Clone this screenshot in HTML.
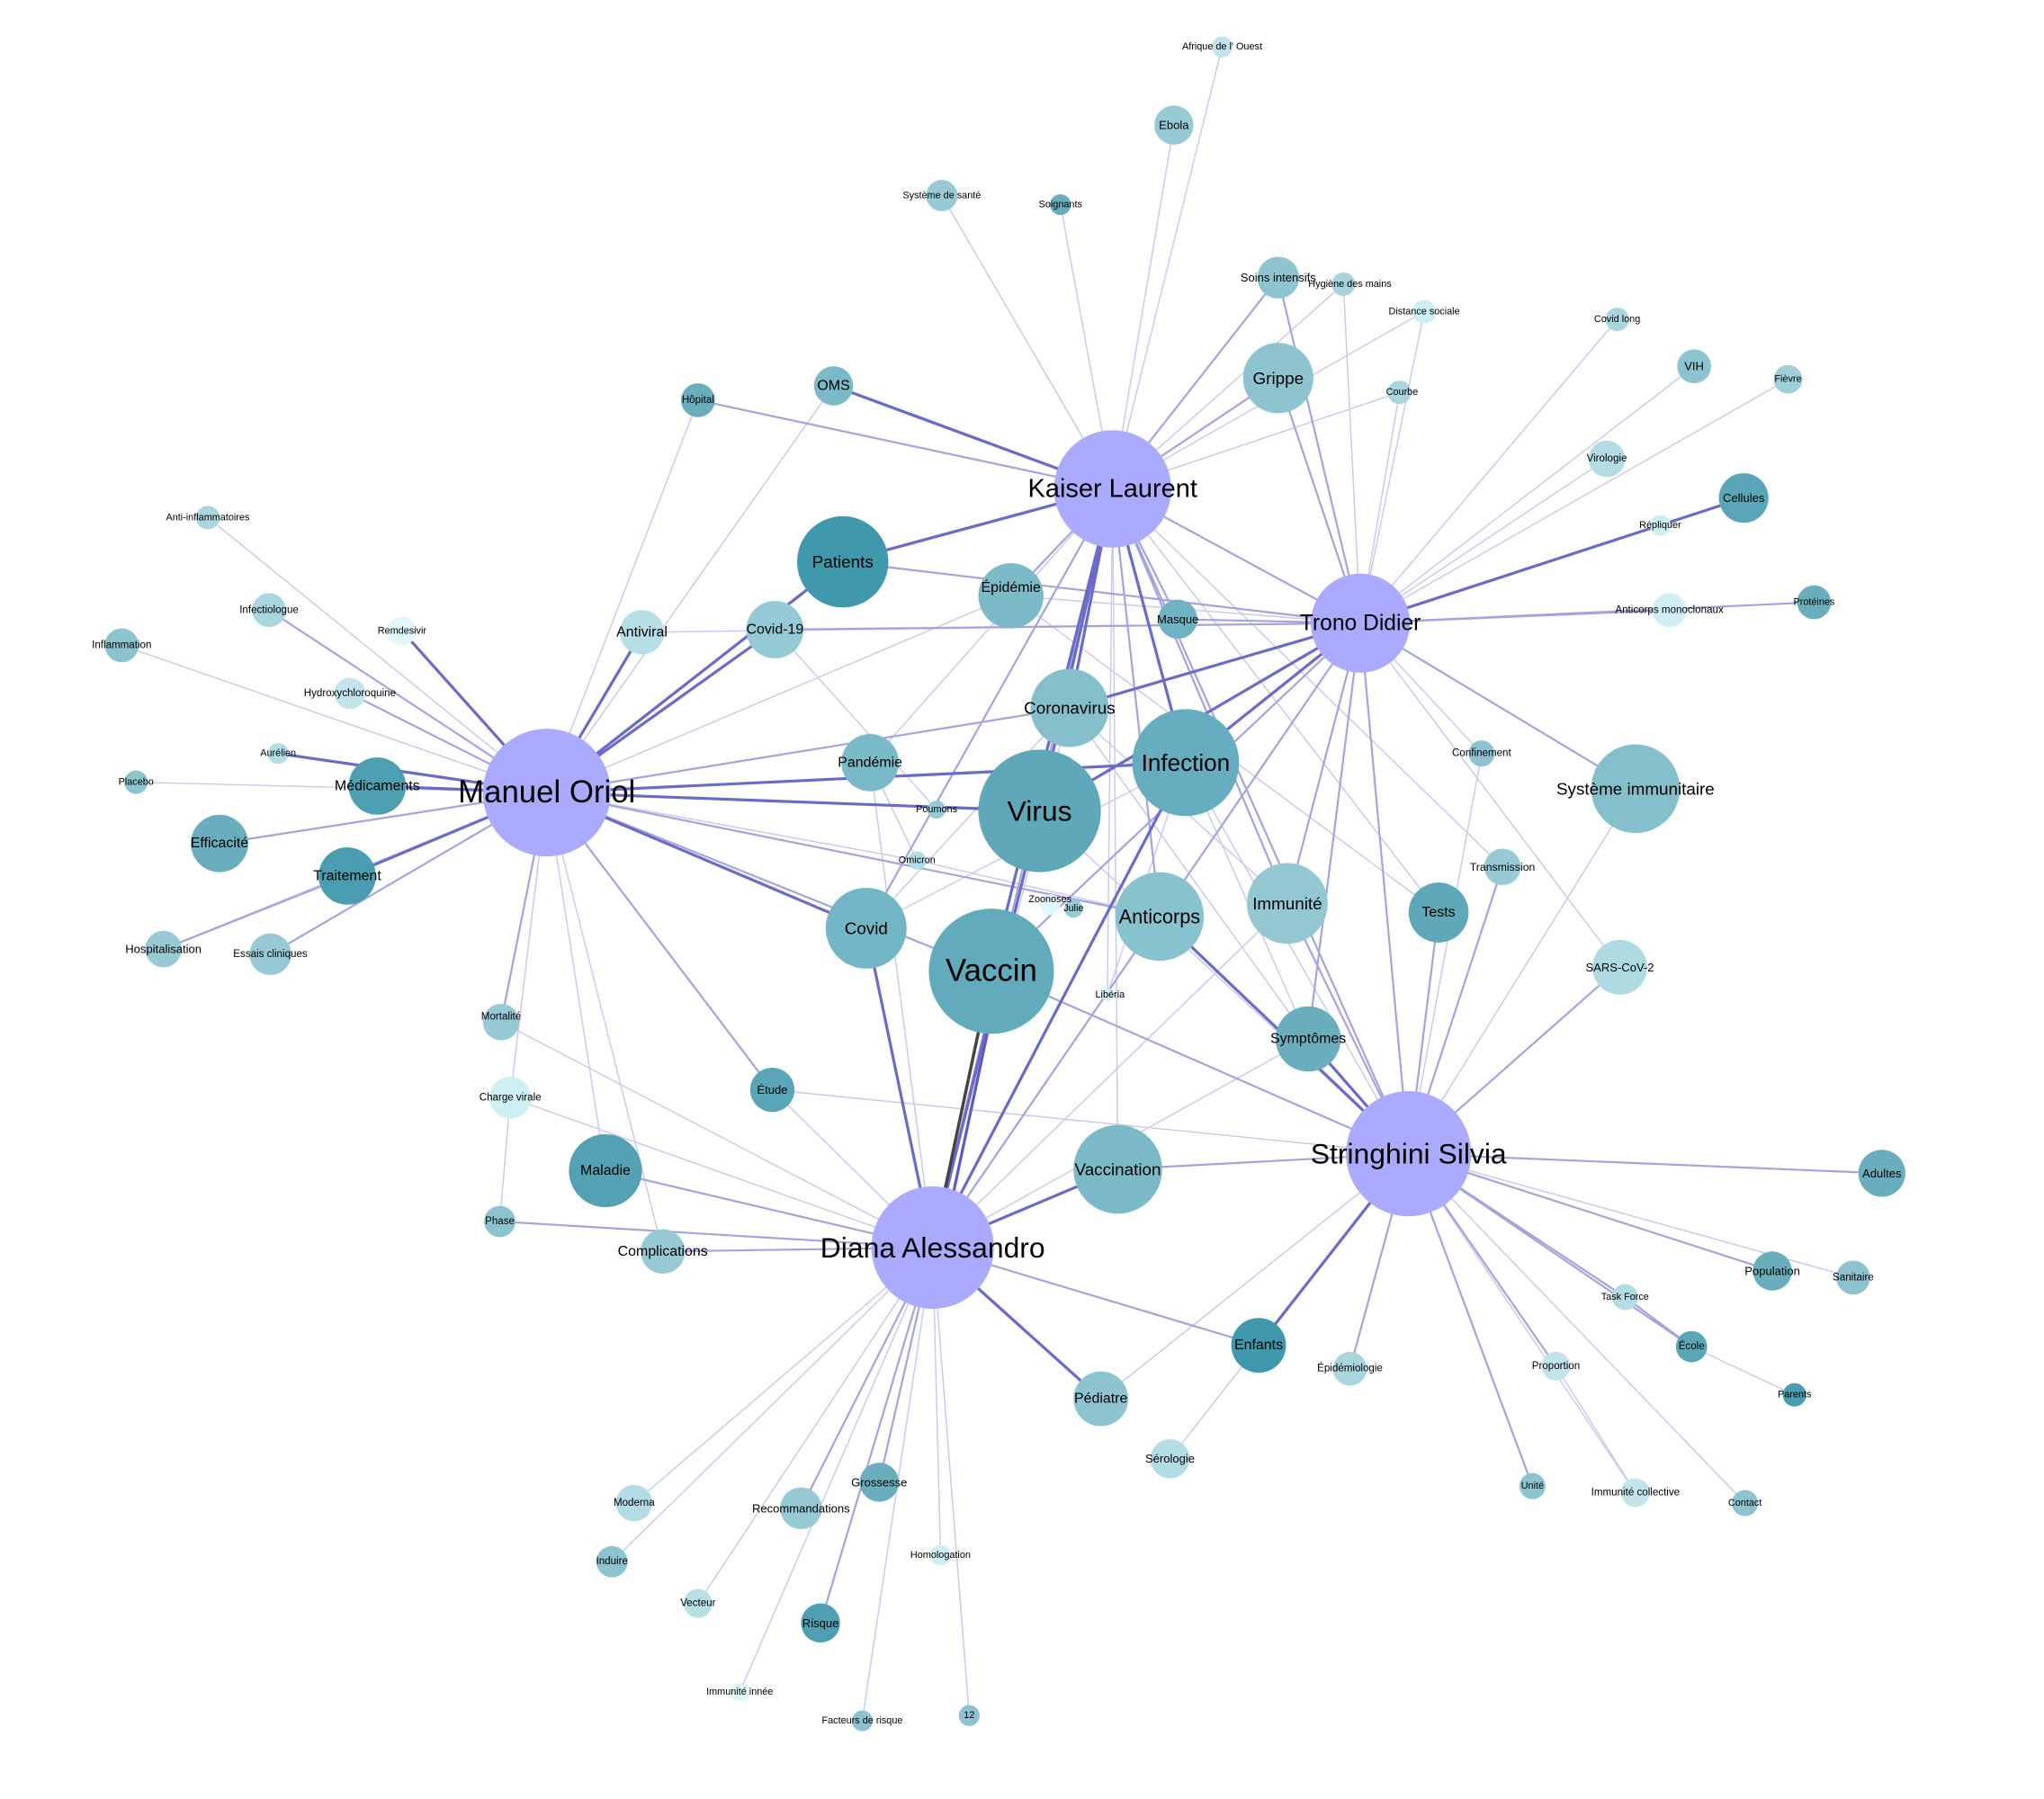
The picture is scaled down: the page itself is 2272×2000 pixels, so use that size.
<!DOCTYPE html>
<html><head><meta charset="utf-8"><style>
html,body{margin:0;padding:0;background:#fff;}
svg{display:block}
text{font-family:"Liberation Sans",sans-serif;fill:#000;text-anchor:middle;dominant-baseline:central}
</style></head><body>
<svg width="2272" height="2000" viewBox="0 0 1567 1380" xmlns="http://www.w3.org/2000/svg">
<g fill="none" stroke-linecap="round">
<path stroke="#c9c9ec" stroke-width="1" d="
M853 375L722 150 M853 375L813 157 M853 375L900 96 M853 375L937 36 M853 375L1030 218 M853 375L1092 239 M853 375L1073 301 M853 375L1103 700 M853 375L1152 665 M853 375L849 763 M853 375L667 585 M853 375L857 897
M1043 478L1240 245 M1043 478L1299 281 M1043 478L1371 291 M1043 478L1232 352 M1043 478L1273 403 M1043 478L1136 578 M1043 478L775 457 M1043 478L492 485 M1043 478L1242 742 M1043 478L1030 218 M1043 478L1073 301 M1043 478L1092 239
M419 608L159 397 M419 608L93 495 M419 608L104 600 M419 608L125 728 M419 608L535 307 M419 608L639 296 M419 608L775 457 M419 608L464 898 M419 608L508 960 M419 608L703 660 M419 608L391 842
M1080 885L1421 980 M1080 885L1254 1145 M1080 885L1338 1153 M1080 885L1254 605 M1080 885L1136 578 M1080 885L844 1073 M1080 885L592 836 M1080 885L987 693 M1080 885L909 585 M1080 885L797 622
M715 957L486 1153 M715 957L469 1198 M715 957L535 1230 M715 957L567 1298 M715 957L661 1320 M715 957L743 1316 M715 957L721 1193 M715 957L391 842 M715 957L384 784 M715 957L592 836 M715 957L1003 797 M715 957L987 693 M715 957L820 543 M715 957L667 585 M715 957L1043 478
M897 1119L965 1032 M1193 1048L1254 1145 M1297 1033L1376 1070 M383 937L391 842 M664 712L909 585 M664 712L820 543 M667 585L703 660 M718 621L594 483 M849 763L909 585 M820 543L1003 797 M909 585L1003 797 M703 660L889 703 M1254 605L1080 885 M987 693L820 543 M775 457L1103 700
"/>
<path stroke="#a3a3de" stroke-width="1.5" d="
M853 375L535 307 M853 375L980 213 M853 375L980 290 M853 375L775 457 M853 375L889 703 M853 375L903 475 M853 375L1043 478 M853 375L664 712 M853 375L715 957 M853 375L987 693
M1043 478L980 290 M1043 478L980 213 M1043 478L1280 468 M1043 478L1391 462 M1043 478L646 431 M1043 478L594 483 M1043 478L903 475 M1043 478L987 693 M1043 478L1080 885 M1043 478L1003 797 M1043 478L889 703 M1043 478L1254 605 M1043 478L760 745
M419 608L206 468 M419 608L268 532 M419 608L168 647 M419 608L207 732 M419 608L384 784 M419 608L820 543 M419 608L889 703 M419 608L592 836 M419 608L760 745
M1080 885L1443 900 M1080 885L1359 975 M1080 885L1246 995 M1080 885L1297 1033 M1080 885L1193 1048 M1080 885L1035 1050 M1080 885L1175 1140 M1080 885L1242 742 M1080 885L1103 700 M1080 885L1152 665 M1080 885L987 693 M1080 885L889 703 M1080 885L760 745 M1080 885L857 897
M715 957L965 1032 M715 957L674 1137 M715 957L614 1157 M715 957L629 1245 M715 957L383 937 M715 957L508 960 M715 957L464 898 M715 957L889 703 M715 957L909 585
M266 672L125 728 M1246 995L1297 1033 M1080 885L853 375
"/>
<path stroke="#6a6ac8" stroke-width="2.2" d="
M853 375L797 622 M853 375L760 745 M853 375L909 585 M853 375L820 543 M853 375L646 431 M853 375L639 296
M1043 478L909 585 M1043 478L797 622 M1043 478L1337 382 M1043 478L820 543
M419 608L289 603 M419 608L266 672 M419 608L664 712 M419 608L797 622 M419 608L594 483 M419 608L308 484 M419 608L213 578 M419 608L492 485 M419 608L646 431 M419 608L909 585
M1080 885L1003 797 M1080 885L965 1032 M1080 885L889 703
M715 957L857 897 M715 957L844 1073 M715 957L664 712 M715 957L797 622 M715 957L909 585
"/>
<path stroke="#444" stroke-width="2.4" d="M715 957L760 745"/>
<path stroke="#5a5ac0" stroke-width="2.2" d="M722 957L767 745"/>
</g>
<g>
<circle cx="853" cy="375" r="45" fill="#aaaaff"/>
<circle cx="1043" cy="478" r="38" fill="#aaaaff"/>
<circle cx="419" cy="608" r="49" fill="#aaaaff"/>
<circle cx="1080" cy="885" r="48" fill="#aaaaff"/>
<circle cx="715" cy="957" r="47" fill="#aaaaff"/>
<circle cx="797" cy="622" r="47" fill="#5fa8ba"/>
<circle cx="760" cy="745" r="48" fill="#62abbc"/>
<circle cx="909" cy="585" r="41" fill="#66aebf"/>
<circle cx="820" cy="543" r="30" fill="#85bfcc"/>
<circle cx="889" cy="703" r="34" fill="#89c2cf"/>
<circle cx="987" cy="693" r="31" fill="#93c8d3"/>
<circle cx="664" cy="712" r="31" fill="#72b6c5"/>
<circle cx="646" cy="431" r="35" fill="#3f98ac"/>
<circle cx="775" cy="457" r="25" fill="#7cbac8"/>
<circle cx="667" cy="585" r="22" fill="#7ab9c7"/>
<circle cx="594" cy="483" r="22" fill="#95c9d4"/>
<circle cx="492" cy="485" r="17" fill="#b5dee5"/>
<circle cx="903" cy="475" r="15" fill="#6fb2c1"/>
<circle cx="1254" cy="605" r="34" fill="#85bfcc"/>
<circle cx="1103" cy="700" r="23" fill="#5fa8ba"/>
<circle cx="1003" cy="797" r="25" fill="#6aaebe"/>
<circle cx="857" cy="897" r="34" fill="#7cbac8"/>
<circle cx="464" cy="898" r="28" fill="#54a1b4"/>
<circle cx="592" cy="836" r="17" fill="#5aa6b8"/>
<circle cx="980" cy="290" r="27" fill="#8dc4d0"/>
<circle cx="980" cy="213" r="16" fill="#8dc4d0"/>
<circle cx="1030" cy="218" r="9" fill="#a6d3dc"/>
<circle cx="1092" cy="239" r="9" fill="#cdeef2"/>
<circle cx="1073" cy="301" r="9" fill="#a9d5de"/>
<circle cx="1240" cy="245" r="9" fill="#a9d5de"/>
<circle cx="1299" cy="281" r="13" fill="#8cc3cf"/>
<circle cx="1371" cy="291" r="11" fill="#9fcfd9"/>
<circle cx="1232" cy="352" r="14" fill="#b3dce4"/>
<circle cx="1273" cy="403" r="8" fill="#cdeef2"/>
<circle cx="1337" cy="382" r="19" fill="#5aa6b8"/>
<circle cx="1391" cy="462" r="13" fill="#6aaebe"/>
<circle cx="1280" cy="468" r="13" fill="#d0eff4"/>
<circle cx="1136" cy="578" r="10" fill="#8cc3cf"/>
<circle cx="1152" cy="665" r="14" fill="#98cad5"/>
<circle cx="1242" cy="742" r="21" fill="#afdae2"/>
<circle cx="1443" cy="900" r="18" fill="#6aaebe"/>
<circle cx="1359" cy="975" r="15" fill="#6aaebe"/>
<circle cx="1421" cy="980" r="13" fill="#8cc3cf"/>
<circle cx="1246" cy="995" r="10" fill="#b3dce4"/>
<circle cx="1297" cy="1033" r="12" fill="#5aa6b8"/>
<circle cx="1376" cy="1070" r="9" fill="#4a9db0"/>
<circle cx="1193" cy="1048" r="11" fill="#c2e4ea"/>
<circle cx="1035" cy="1050" r="13" fill="#a9d5de"/>
<circle cx="965" cy="1032" r="21" fill="#3f98ac"/>
<circle cx="1254" cy="1145" r="11" fill="#c2e4ea"/>
<circle cx="1338" cy="1153" r="10" fill="#8cc3cf"/>
<circle cx="1175" cy="1140" r="10" fill="#8cc3cf"/>
<circle cx="844" cy="1073" r="21" fill="#8dc4d0"/>
<circle cx="897" cy="1119" r="15" fill="#b3dce4"/>
<circle cx="674" cy="1137" r="15" fill="#6aaebe"/>
<circle cx="614" cy="1157" r="16" fill="#98cad5"/>
<circle cx="486" cy="1153" r="14" fill="#b3dce4"/>
<circle cx="469" cy="1198" r="12" fill="#8cc3cf"/>
<circle cx="535" cy="1230" r="11" fill="#b8dfe6"/>
<circle cx="629" cy="1245" r="15" fill="#4e9fb2"/>
<circle cx="721" cy="1193" r="8" fill="#d0eff4"/>
<circle cx="567" cy="1298" r="7" fill="#e0f8fb"/>
<circle cx="661" cy="1320" r="8" fill="#8cc3cf"/>
<circle cx="743" cy="1316" r="8" fill="#8cc3cf"/>
<circle cx="508" cy="960" r="17" fill="#98cad5"/>
<circle cx="383" cy="937" r="12" fill="#8cc3cf"/>
<circle cx="391" cy="842" r="16" fill="#cdeef2"/>
<circle cx="384" cy="784" r="14" fill="#98cad5"/>
<circle cx="266" cy="672" r="22" fill="#4a9db0"/>
<circle cx="168" cy="647" r="22" fill="#6aaebe"/>
<circle cx="289" cy="603" r="22" fill="#4e9fb2"/>
<circle cx="207" cy="732" r="16" fill="#98cad5"/>
<circle cx="125" cy="728" r="14" fill="#98cad5"/>
<circle cx="104" cy="600" r="9" fill="#8cc3cf"/>
<circle cx="213" cy="578" r="8" fill="#b3dce4"/>
<circle cx="268" cy="532" r="12" fill="#c2e4ea"/>
<circle cx="93" cy="495" r="13" fill="#8cc3cf"/>
<circle cx="206" cy="468" r="13" fill="#a9d5de"/>
<circle cx="308" cy="484" r="11" fill="#e0f8fb"/>
<circle cx="159" cy="397" r="9" fill="#a9d5de"/>
<circle cx="535" cy="307" r="13" fill="#6aaebe"/>
<circle cx="639" cy="296" r="15" fill="#7ab9c7"/>
<circle cx="722" cy="150" r="12" fill="#98cad5"/>
<circle cx="813" cy="157" r="8" fill="#6aaebe"/>
<circle cx="900" cy="96" r="15" fill="#98cad5"/>
<circle cx="937" cy="36" r="8" fill="#c2e4ea"/>
<circle cx="718" cy="621" r="7" fill="#98cad5"/>
<circle cx="703" cy="660" r="7" fill="#b3dce4"/>
<circle cx="805" cy="694" r="8" fill="#e0f8fb"/>
<circle cx="823" cy="697" r="7" fill="#98cad5"/>
<circle cx="849" cy="763" r="5" fill="#d0eff4"/>
</g>
<g font-size="20"><text x="853" y="375">Kaiser Laurent</text><text x="419" y="608" font-size="24">Manuel Oriol</text><text x="1080" y="885" font-size="22">Stringhini Silvia</text><text x="715" y="957" font-size="22">Diana Alessandro</text><text x="1043" y="478" font-size="17">Trono Didier</text>
<text x="797" y="622" font-size="22">Virus</text><text x="760" y="745" font-size="24">Vaccin</text><text x="909" y="585" font-size="18">Infection</text></g>
<g font-size="13"><text x="820" y="543">Coronavirus</text><text x="889" y="703" font-size="15">Anticorps</text><text x="987" y="693">Immunité</text><text x="664" y="712">Covid</text><text x="646" y="431">Patients</text><text x="857" y="897">Vaccination</text><text x="1254" y="605">Système immunitaire</text><text x="980" y="290">Grippe</text></g>
<g font-size="11"><text x="775" y="451">Épidémie</text><text x="667" y="585">Pandémie</text><text x="594" y="483">Covid-19</text><text x="492" y="485">Antiviral</text><text x="289" y="603">Médicaments</text><text x="266" y="672">Traitement</text><text x="168" y="647">Efficacité</text><text x="464" y="898">Maladie</text><text x="1003" y="797">Symptômes</text><text x="1103" y="700">Tests</text><text x="965" y="1032">Enfants</text><text x="844" y="1073">Pédiatre</text><text x="508" y="960">Complications</text><text x="639" y="296">OMS</text></g>
<g font-size="9"><text x="903" y="475">Masque</text><text x="592" y="836">Étude</text><text x="980" y="213">Soins intensifs</text><text x="1035" y="218" font-size="7.5">Hygiène des mains</text><text x="1092" y="239" font-size="7.5">Distance sociale</text><text x="1075" y="301" font-size="7.5">Courbe</text><text x="1240" y="245" font-size="7.5">Covid long</text><text x="1299" y="281">VIH</text><text x="1371" y="291" font-size="7.5">Fièvre</text><text x="1232" y="352" font-size="8">Virologie</text><text x="1273" y="403" font-size="7.5">Répliquer</text><text x="1337" y="382">Cellules</text><text x="1391" y="462" font-size="7.5">Protéines</text><text x="1280" y="468" font-size="8">Anticorps monoclonaux</text><text x="1136" y="578" font-size="8">Confinement</text><text x="1152" y="665" font-size="8.5">Transmission</text><text x="1242" y="742">SARS-CoV-2</text><text x="1443" y="900">Adultes</text><text x="1359" y="975">Population</text><text x="1421" y="980" font-size="8">Sanitaire</text><text x="1246" y="995" font-size="7.5">Task Force</text><text x="1297" y="1033" font-size="8">École</text><text x="1376" y="1070" font-size="7.5">Parents</text><text x="1193" y="1048" font-size="8">Proportion</text><text x="1035" y="1050" font-size="8">Épidémiologie</text><text x="1254" y="1145" font-size="8">Immunité collective</text><text x="1338" y="1153" font-size="7.5">Contact</text><text x="1175" y="1140" font-size="7.5">Unité</text><text x="897" y="1119">Sérologie</text><text x="674" y="1137">Grossesse</text><text x="614" y="1157">Recommandations</text><text x="486" y="1153" font-size="8">Moderna</text><text x="469" y="1198" font-size="8">Induire</text><text x="535" y="1230" font-size="8">Vecteur</text><text x="629" y="1245">Risque</text><text x="721" y="1193" font-size="7.5">Homologation</text><text x="567" y="1298" font-size="7.5">Immunité innée</text><text x="661" y="1320" font-size="7.5">Facteurs de risque</text><text x="743" y="1316" font-size="7.5">12</text><text x="383" y="937" font-size="8">Phase</text><text x="391" y="842" font-size="8">Charge virale</text><text x="384" y="780" font-size="8">Mortalité</text><text x="207" y="732" font-size="8">Essais cliniques</text><text x="125" y="728">Hospitalisation</text><text x="104" y="600" font-size="7.5">Placebo</text><text x="213" y="578" font-size="7.5">Aurélien</text><text x="268" y="532" font-size="8">Hydroxychloroquine</text><text x="93" y="495" font-size="8">Inflammation</text><text x="206" y="468" font-size="8">Infectiologue</text><text x="308" y="484" font-size="7.5">Remdesivir</text><text x="159" y="397" font-size="7.5">Anti-inflammatoires</text><text x="535" y="307" font-size="8">Hôpital</text><text x="722" y="150" font-size="7.5">Système de santé</text><text x="813" y="157" font-size="7.5">Soignants</text><text x="900" y="96">Ebola</text><text x="937" y="36" font-size="7.5">Afrique de l' Ouest</text><text x="718" y="621" font-size="7.5">Poumons</text><text x="703" y="660" font-size="7.5">Omicron</text><text x="805" y="690" font-size="7.5">Zoonoses</text><text x="823" y="697" font-size="7.5">Julie</text><text x="851" y="763" font-size="7.5">Libéria</text></g>
</svg>
</body></html>
